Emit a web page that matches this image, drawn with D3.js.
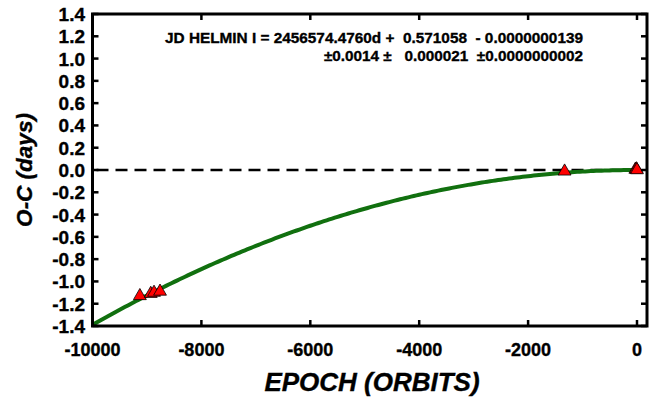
<!DOCTYPE html>
<html>
<head>
<meta charset="utf-8">
<script src="https://cdn.jsdelivr.net/npm/d3@7"></script>
<style>
  html, body { margin: 0; padding: 0; background: #fff; }
  svg { display: block; }
  text { font-family: "Liberation Sans", Arial, sans-serif; font-weight: bold; fill: #000; stroke: #000; stroke-width: 0.35px; }
</style>
</head>
<body>
<svg id="chart" width="654" height="397"></svg>
<script>
// Observed timings: epoch and O-C residual (days)
const epochs = [-9130, -8930, -8870, -8760, -1330, -30, -10, 0];
const ocDays = [-1.13, -1.11, -1.10, -1.09, -0.012, 0.004, 0.008, 0.0];

// Quadratic ephemeris coefficients
const ephemeris = { t0: 2456574.4760, period: 0.571058, quad: -0.0000000139 };

// Axis ticks
const xTicks = [-10000, -8000, -6000, -4000, -2000, 0];
const yTicks = [1.4, 1.2, 1.0, 0.8, 0.6, 0.4, 0.2, 0.0, -0.2, -0.4, -0.6, -0.8, -1.0, -1.2, -1.4];

const eqLine1 = "JD HELMIN I = 2456574.4760d +  0.571058  - 0.0000000139";
const eqLine2 = "\u00B10.0014 \u00B1   0.000021  \u00B10.0000000002";

const svg = d3.select("#chart");
const plot = { left: 92.5, top: 14, right: 647, bottom: 326 };

const x = d3.scaleLinear().domain([-10000, 0]).range([plot.left, 637]);
const y = d3.scaleLinear().domain([-1.4, 1.4]).range([plot.bottom, plot.top]);

// Zero reference line
svg.append("line")
  .attr("x1", plot.left + 4).attr("x2", plot.right)
  .attr("y1", y(0)).attr("y2", y(0))
  .attr("stroke", "#000").attr("stroke-width", 2.6)
  .attr("stroke-dasharray", "12,7");

// Fitted quadratic O-C curve
const curvePts = d3.range(-10000, 1, 50).map(e => [e, ephemeris.quad * e * e]);
svg.append("clipPath").attr("id", "clip")
  .append("rect").attr("x", plot.left).attr("y", plot.top)
  .attr("width", plot.right - plot.left).attr("height", plot.bottom - plot.top);
svg.append("path")
  .datum(curvePts)
  .attr("clip-path", "url(#clip)")
  .attr("fill", "none")
  .attr("stroke", "#11700f")
  .attr("stroke-width", 4)
  .attr("d", d3.line().x(d => x(d[0])).y(d => y(d[1])));

// Observations
svg.selectAll("path.obs")
  .data(epochs.map((e, i) => [e, ocDays[i]]))
  .join("path")
  .attr("class", "obs")
  .attr("transform", d => `translate(${x(d[0])},${y(d[1])})`)
  .attr("d", d3.symbol(d3.symbolTriangle, 72))
  .attr("fill", "#ff0000")
  .attr("stroke", "#000")
  .attr("stroke-width", 0.8);

// Frame
svg.append("rect")
  .attr("x", plot.left).attr("y", plot.top)
  .attr("width", plot.right - plot.left).attr("height", plot.bottom - plot.top)
  .attr("fill", "none").attr("stroke", "#000").attr("stroke-width", 3);

// Inward ticks on all four sides
const tickLen = 6;
const gx = svg.append("g");
xTicks.forEach(t => {
  gx.append("line").attr("x1", x(t)).attr("x2", x(t))
    .attr("y1", plot.bottom).attr("y2", plot.bottom - tickLen)
    .attr("stroke", "#000").attr("stroke-width", 2.5);
  gx.append("line").attr("x1", x(t)).attr("x2", x(t))
    .attr("y1", plot.top).attr("y2", plot.top + tickLen)
    .attr("stroke", "#000").attr("stroke-width", 2.5);
  gx.append("text").attr("x", x(t)).attr("y", 356)
    .attr("text-anchor", "middle").attr("font-size", 18)
    .text(t);
});
const gy = svg.append("g");
yTicks.forEach(t => {
  gy.append("line").attr("x1", plot.left).attr("x2", plot.left + tickLen)
    .attr("y1", y(t)).attr("y2", y(t))
    .attr("stroke", "#000").attr("stroke-width", 2.5);
  gy.append("line").attr("x1", plot.right).attr("x2", plot.right - tickLen)
    .attr("y1", y(t)).attr("y2", y(t))
    .attr("stroke", "#000").attr("stroke-width", 2.5);
  gy.append("text").attr("x", 85).attr("y", y(t) + 7)
    .attr("text-anchor", "end").attr("font-size", 19)
    .text(d3.format(".1f")(t).replace("\u2212", "-"));
});

// Axis titles
svg.append("text")
  .attr("x", 372).attr("y", 391)
  .attr("text-anchor", "middle").attr("font-size", 26).attr("font-style", "italic")
  .text("EPOCH (ORBITS)");
svg.append("text")
  .attr("transform", `translate(32,170) rotate(-90)`)
  .attr("text-anchor", "middle").attr("font-size", 22.5).attr("font-style", "italic")
  .text("O-C (days)");

// Ephemeris annotation
svg.append("text")
  .attr("x", 165).attr("y", 43).attr("font-size", 15.3)
  .attr("xml:space", "preserve").style("white-space", "pre")
  .attr("textLength", 418).attr("lengthAdjust", "spacingAndGlyphs")
  .text(eqLine1);
svg.append("text")
  .attr("x", 583).attr("y", 61).attr("font-size", 15.3)
  .attr("text-anchor", "end")
  .attr("xml:space", "preserve").style("white-space", "pre")
  .text(eqLine2);
</script>
</body>
</html>
